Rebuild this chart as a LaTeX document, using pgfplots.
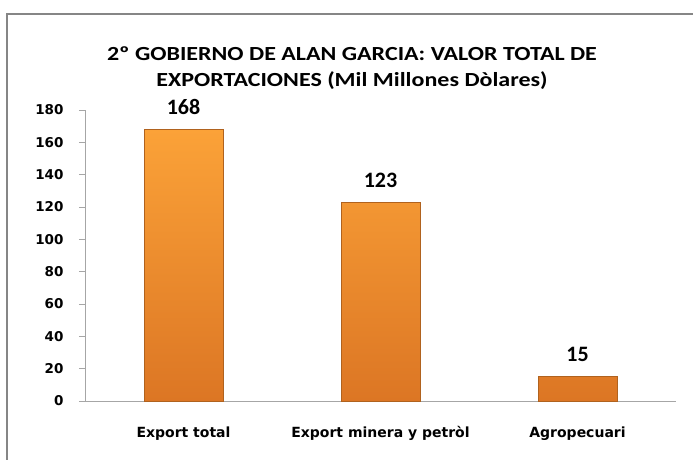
\documentclass[border=0pt]{standalone}
\usepackage{fontspec}
\setmainfont{Carlito}
\newfontfamily\dejavu{DejaVu Sans}
\usepackage{graphicx}
\usepackage{pgfplots}
\pgfplotsset{compat=1.18}
\definecolor{bartop}{HTML}{FBA238}
\definecolor{barbot}{HTML}{DC7624}
\definecolor{baredge}{HTML}{B0621E}
\definecolor{axgray}{HTML}{A6A6A6}
\definecolor{frame}{HTML}{868686}
\begin{document}
\begin{tikzpicture}[x=1pt,y=1pt]
\path[use as bounding box] (0,0) rectangle (693,459);
\begin{scope}
\clip (0,0) rectangle (693,459);
\draw[line width=2.5pt, color=frame] (7,-10) rectangle (720,445);
\end{scope}
\node[font=\fontsize{20}{26}\selectfont\bfseries, align=center] at (352,391)
  {\scalebox{1.2}[1]{2º GOBIERNO DE ALAN GARCIA: VALOR TOTAL DE}\\\scalebox{1.2}[1]{EXPORTACIONES (Mil Millones Dòlares)}};
\begin{axis}[
  at={(85pt,58pt)}, anchor=south west,
  scale only axis, width=591pt, height=291pt,
  xmin=-0.5, xmax=2.5, ymin=0, ymax=180,
  ytick={0,20,...,180},
  xtick={0,1,2},
  xticklabels={Export total, Export minera y petròl, Agropecuari},
  x tick style={draw=none},
  extra x ticks={-0.5,0.5,1.5,2.5},
  extra x tick labels={},
  extra x tick style={major tick length=5pt, tick style={draw=axgray}},
  axis x line*=bottom, axis y line*=left,
  axis line style={draw=axgray, line width=0.8pt, -},
  y tick style={draw=axgray, line width=0.8pt},
  tick align=outside, major tick length=6pt,
  /pgf/number format/assume math mode=true,
  yticklabel style={font=\dejavu\fontsize{13.5}{16}\selectfont\bfseries, xshift=-12pt},
  xticklabel style={font=\dejavu\fontsize{14}{16}\selectfont\bfseries, yshift=-16pt},
  nodes near coords,
  every node near coord/.append style={font=\fontsize{22}{24}\selectfont\bfseries, yshift=11pt},
  clip=false,
]
\addplot[ybar, bar width=79pt, draw=baredge, line width=0.6pt, top color=bartop, bottom color=barbot]
  coordinates {(0,168) (1,123) (2,15)};
\end{axis}
\end{tikzpicture}
\end{document}
